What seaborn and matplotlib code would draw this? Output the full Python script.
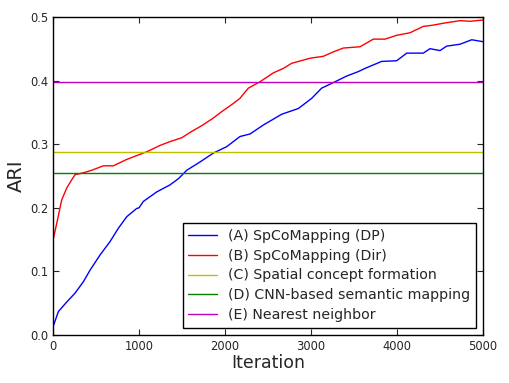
import numpy as np
import pandas as pd
import seaborn as sns
import matplotlib
matplotlib.use('Agg')
import matplotlib.pyplot as plt

# ARI over iterations
dp_iter = [0, 62, 159, 256, 353, 430, 547, 663, 760, 857, 973, 1000, 1050, 1206,
           1360, 1400, 1460, 1555, 1709, 1864, 2019, 2174, 2291, 2445, 2659, 2853,
           3008, 3124, 3279, 3415, 3550, 3628, 3822, 3996, 4113, 4306, 4384, 4500,
           4578, 4733, 4869, 5000]
dp_ari = [0.013, 0.037, 0.052, 0.066, 0.084, 0.102, 0.126, 0.147, 0.168, 0.186,
          0.199, 0.200, 0.210, 0.225, 0.236, 0.240, 0.246, 0.259, 0.272, 0.286,
          0.296, 0.312, 0.316, 0.330, 0.347, 0.356, 0.372, 0.388, 0.398, 0.407,
          0.414, 0.419, 0.430, 0.431, 0.443, 0.443, 0.450, 0.447, 0.454, 0.457,
          0.464, 0.461]

dir_iter = [0, 50, 100, 159, 217, 256, 352, 450, 585, 701, 857, 973, 1089, 1244,
            1360, 1496, 1612, 1729, 1864, 1961, 2097, 2174, 2271, 2407, 2562, 2678,
            2775, 2988, 3143, 3260, 3376, 3570, 3725, 3860, 3996, 4151, 4306, 4422,
            4539, 4733, 4849, 5000]
dir_ari = [0.149, 0.180, 0.212, 0.231, 0.244, 0.252, 0.255, 0.259, 0.266, 0.266,
           0.276, 0.282, 0.288, 0.298, 0.304, 0.310, 0.320, 0.329, 0.341, 0.351,
           0.364, 0.372, 0.388, 0.398, 0.412, 0.419, 0.427, 0.435, 0.438, 0.445,
           0.451, 0.453, 0.465, 0.465, 0.471, 0.475, 0.485, 0.487, 0.490, 0.494,
           0.493, 0.495]

# baselines (constant)
scf_ari = 0.288
cnn_ari = 0.255
nn_ari = 0.397

labels = ['(A) SpCoMapping (DP)', '(B) SpCoMapping (Dir)',
          '(C) Spatial concept formation', '(D) CNN-based semantic mapping',
          '(E) Nearest neighbor']
colors = ['b', 'r', 'y', 'g', 'm']

sns.set_style('ticks', {'xtick.direction': 'in', 'ytick.direction': 'in',
                        'axes.edgecolor': 'black'})
plt.rcParams['font.family'] = ['DejaVu Sans']

fig, ax = plt.subplots(figsize=(5.1, 3.83), dpi=100)
fig.subplots_adjust(left=0.104, right=0.947, top=0.956, bottom=0.125)

sns.lineplot(x=dp_iter, y=dp_ari, color=colors[0], lw=1, label=labels[0], ax=ax)
sns.lineplot(x=dir_iter, y=dir_ari, color=colors[1], lw=1, label=labels[1], ax=ax)
ends = [0, 5000]
sns.lineplot(x=ends, y=[scf_ari] * 2, color=colors[2], lw=1, label=labels[2], ax=ax)
sns.lineplot(x=ends, y=[cnn_ari] * 2, color=colors[3], lw=1, label=labels[3], ax=ax)
sns.lineplot(x=ends, y=[nn_ari] * 2, color=colors[4], lw=1, label=labels[4], ax=ax)

ax.set_xlim(0, 5000)
ax.set_ylim(0, 0.5)
ax.set_xticks([0, 1000, 2000, 3000, 4000, 5000])
ax.set_yticks([0.0, 0.1, 0.2, 0.3, 0.4, 0.5])
ax.set_yticklabels(['0.0', '0.1', '0.2', '0.3', '0.4', '0.5'])
ax.tick_params(labelsize=8.3, top=True, right=True, length=4, width=0.8)
for s in ax.spines.values():
    s.set_linewidth(1)
ax.set_xlabel('Iteration', fontsize=12.5, labelpad=1)
ax.set_ylabel('ARI', fontsize=14, labelpad=3)

leg = ax.legend(loc='lower right', fontsize=10.2, fancybox=False, framealpha=1,
                edgecolor='black', labelspacing=0.42, borderaxespad=0.5)
leg.get_frame().set_linewidth(1)

fig.savefig('out.png', dpi=100)
